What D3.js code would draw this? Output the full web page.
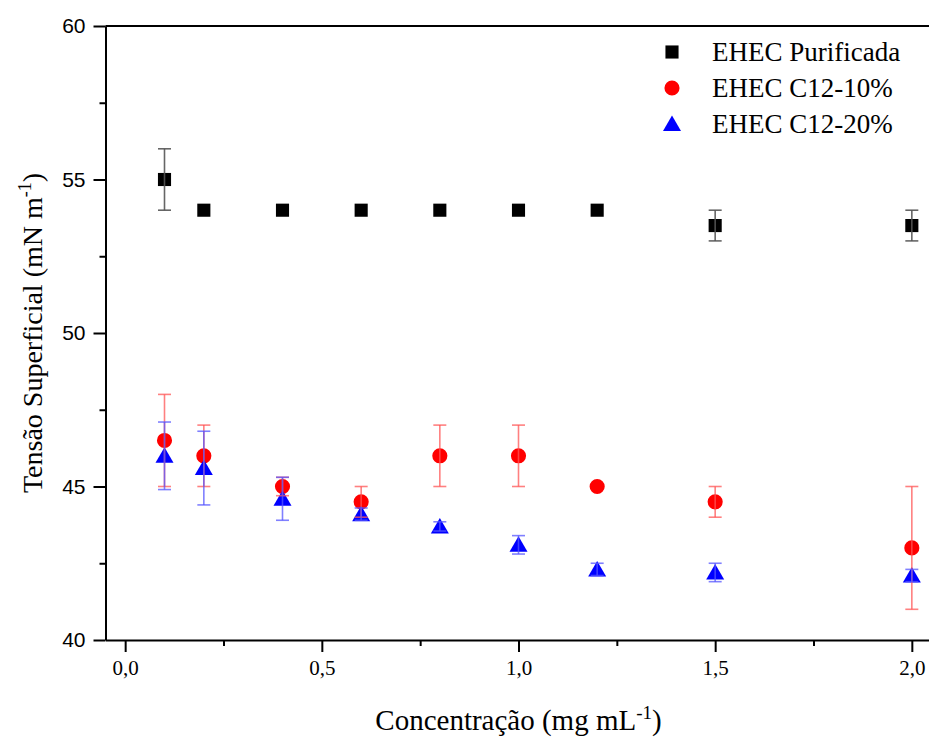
<!DOCTYPE html>
<html>
<head>
<meta charset="utf-8">
<script src="https://cdn.jsdelivr.net/npm/d3@7"></script>
<style>
  html, body { margin: 0; padding: 0; background: #fff; }
  svg { display: block; }
</style>
</head>
<body>
<svg id="chart" width="929" height="737"></svg>
<script>
// Concentration (mg/mL)
const concentrations = [0.1, 0.2, 0.4, 0.6, 0.8, 1.0, 1.2, 1.5, 2.0];

// Surface tension (mN/m) and standard deviations
const purificada    = [55.0, 54.0, 54.0, 54.0, 54.0, 54.0, 54.0, 53.5, 53.5];
const purificadaErr = [1.0, 0, 0, 0, 0, 0, 0, 0.5, 0.5];
const c12_10        = [46.5, 46.0, 45.0, 44.5, 46.0, 46.0, 45.0, 44.5, 43.0];
const c12_10Err     = [1.5, 1.0, 0.3, 0.5, 1.0, 1.0, 0, 0.5, 2.0];
const c12_20        = [46.0, 45.6, 44.6, 44.1, 43.7, 43.1, 42.3, 42.2, 42.1];
const c12_20Err     = [1.1, 1.2, 0.7, 0.2, 0.15, 0.3, 0.2, 0.3, 0.2];

const seriesNames = ["EHEC Purificada", "EHEC C12-10%", "EHEC C12-20%"];
const xTicks = [0, 0.5, 1.0, 1.5, 2.0];
const xMinorTicks = [0.25, 0.75, 1.25, 1.75];
const yTicks = [40, 45, 50, 55, 60];
const yMinorTicks = [42.5, 47.5, 52.5, 57.5];

const svg = d3.select("#chart");

const x = d3.scaleLinear().domain([-0.05, 2.05]).range([105.5, 931.5]);
const y = d3.scaleLinear().domain([40, 60]).range([640, 26]);

const fmtX = d => d.toFixed(1).replace(".", ",");
const serif = "'Liberation Serif', 'Times New Roman', serif";

// Frame: top border
svg.append("line")
  .attr("x1", x(-0.05)).attr("x2", 929)
  .attr("y1", y(60)).attr("y2", y(60))
  .attr("stroke", "#000").attr("stroke-width", 2);

// Minor ticks
const yMinor = svg.append("g").attr("transform", `translate(${x(-0.05)},0)`)
  .call(d3.axisLeft(y).tickValues(yMinorTicks).tickSize(6).tickFormat(""));
yMinor.select(".domain").remove();
yMinor.selectAll("line").attr("stroke-width", 2);

const xMinor = svg.append("g").attr("transform", `translate(0,${y(40)})`)
  .call(d3.axisBottom(x).tickValues(xMinorTicks).tickSize(6).tickFormat(""));
xMinor.select(".domain").remove();
xMinor.selectAll("line").attr("stroke-width", 2);

// Major axes
const yAxis = svg.append("g").attr("transform", `translate(${x(-0.05)},0)`)
  .call(d3.axisLeft(y).tickValues(yTicks).tickSize(12).tickSizeOuter(0).tickPadding(8).tickFormat(d3.format("d")));
yAxis.select(".domain").attr("stroke-width", 2);
yAxis.selectAll("line").attr("stroke-width", 2);
yAxis.selectAll("text")
  .attr("font-family", "'Liberation Sans', Arial, sans-serif")
  .attr("font-size", 21).attr("fill", "#000");

const xAxis = svg.append("g").attr("transform", `translate(0,${y(40)})`)
  .call(d3.axisBottom(x).tickValues(xTicks).tickSize(12).tickSizeOuter(0).tickPadding(8).tickFormat(fmtX));
xAxis.select(".domain").attr("stroke-width", 2);
xAxis.selectAll("line").attr("stroke-width", 2);
xAxis.selectAll("text")
  .attr("font-family", serif)
  .attr("font-size", 21).attr("fill", "#000");

// Axis titles
const xTitle = svg.append("text")
  .attr("x", x(1.0)).attr("y", 730)
  .attr("text-anchor", "middle")
  .attr("font-family", serif).attr("font-size", 29).attr("fill", "#000");
xTitle.append("tspan").text("Concentração (mg mL");
xTitle.append("tspan").attr("dy", -11).attr("font-size", 19).text("-1");
xTitle.append("tspan").attr("dy", 11).text(")");

const yTitle = svg.append("text")
  .attr("transform", `translate(42,${y(50)}) rotate(-90)`)
  .attr("text-anchor", "middle")
  .attr("font-family", serif).attr("font-size", 28).attr("fill", "#000");
yTitle.append("tspan").text("Tensão Superficial (mN m");
yTitle.append("tspan").attr("dy", -11).attr("font-size", 18).text("-1");
yTitle.append("tspan").attr("dy", 11).text(")");

// Series definitions
const series = [
  { name: seriesNames[0], values: purificada, errs: purificadaErr, fill: "#000000", err: "#555555", shape: "square" },
  { name: seriesNames[1], values: c12_10, errs: c12_10Err, fill: "#ff0000", err: "#ff5555", shape: "circle" },
  { name: seriesNames[2], values: c12_20, errs: c12_20Err, fill: "#0000ff", err: "#5555ff", shape: "triangle" }
];

const symbolPath = {
  square: d3.symbol().type(d3.symbolSquare).size(172)(),
  circle: d3.symbol().type(d3.symbolCircle).size(180)(),
  triangle: "M0,-8.5 L9,7 L-9,7 Z"
};

// Markers
series.forEach(s => {
  svg.append("g").selectAll("path")
    .data(concentrations.map((c, i) => ({ c, v: s.values[i] })))
    .join("path")
    .attr("d", symbolPath[s.shape])
    .attr("transform", d => `translate(${x(d.c)},${y(d.v)})`)
    .attr("fill", s.fill);
});

// Error bars with caps (omitted where the deviation is zero)
series.forEach(s => {
  const g = svg.append("g")
    .attr("stroke", s.err).attr("stroke-width", 1.6)
    .attr("stroke-opacity", s.shape === "square" ? 0.9 : 0.75);
  const pts = concentrations.map((c, i) => ({ c, v: s.values[i], e: s.errs[i] }))
    .filter(d => d.e > 0);
  g.selectAll("line.bar").data(pts).join("line").attr("class", "bar")
    .attr("x1", d => x(d.c)).attr("x2", d => x(d.c))
    .attr("y1", d => y(d.v + d.e)).attr("y2", d => y(d.v - d.e));
  g.selectAll("line.capTop").data(pts).join("line").attr("class", "capTop")
    .attr("x1", d => x(d.c) - 6.5).attr("x2", d => x(d.c) + 6.5)
    .attr("y1", d => y(d.v + d.e)).attr("y2", d => y(d.v + d.e));
  g.selectAll("line.capBot").data(pts).join("line").attr("class", "capBot")
    .attr("x1", d => x(d.c) - 6.5).attr("x2", d => x(d.c) + 6.5)
    .attr("y1", d => y(d.v - d.e)).attr("y2", d => y(d.v - d.e));
});

// Legend
const legend = svg.append("g").attr("transform", "translate(672,52)");
series.forEach((s, i) => {
  const row = legend.append("g").attr("transform", `translate(0,${i * 36})`);
  row.append("path").attr("d", symbolPath[s.shape]).attr("fill", s.fill);
  row.append("text")
    .attr("x", 40).attr("y", 9)
    .attr("font-family", serif).attr("font-size", 27).attr("fill", "#000")
    .text(s.name);
});
</script>
</body>
</html>
